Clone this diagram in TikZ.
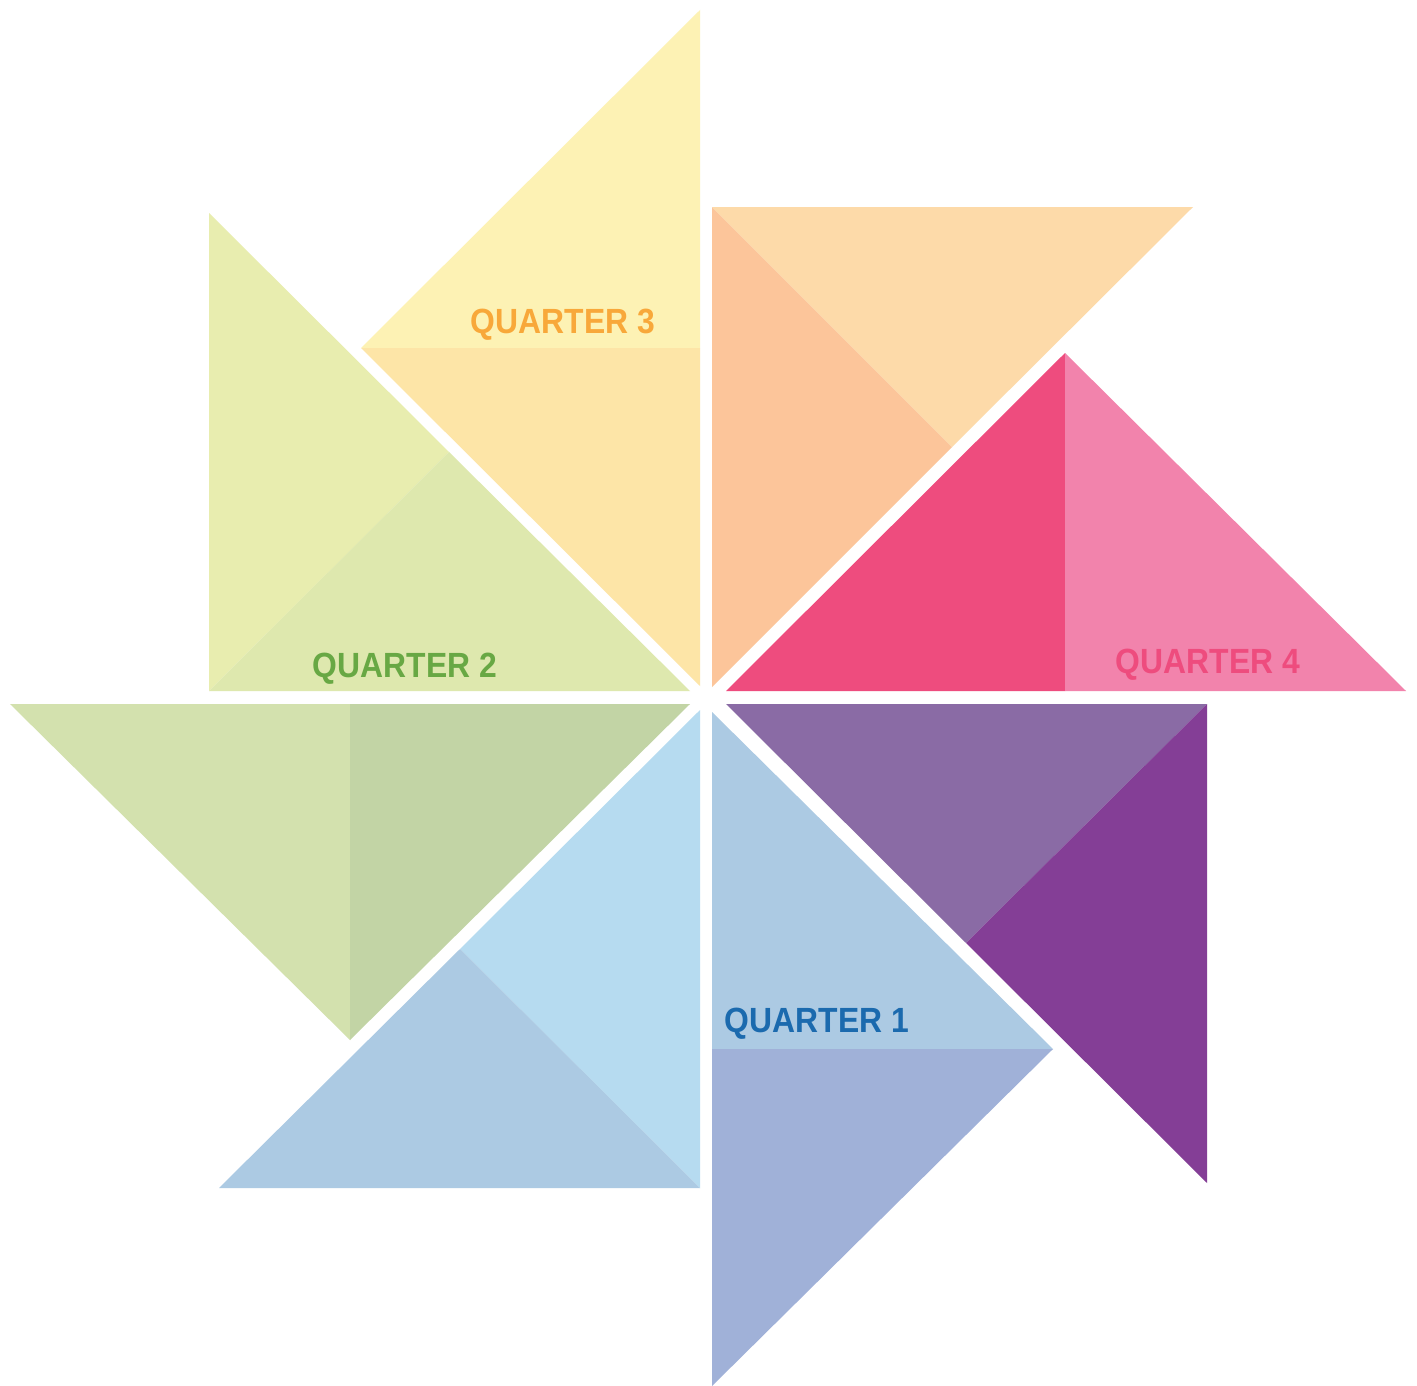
\documentclass[tikz,border=0pt]{standalone}
\usepackage{fontspec}
\setmainfont{Liberation Sans}
\definecolor{cYa}{HTML}{FDF2B4}
\definecolor{cYb}{HTML}{FDE5A7}
\definecolor{cOa}{HTML}{FCC59A}
\definecolor{cOb}{HTML}{FDDAA9}
\definecolor{cPa}{HTML}{EE4C7E}
\definecolor{cPb}{HTML}{F283AC}
\definecolor{cVa}{HTML}{8A6BA5}
\definecolor{cVb}{HTML}{843E96}
\definecolor{cBa}{HTML}{ACCAE3}
\definecolor{cBb}{HTML}{A0B1D8}
\definecolor{cBc}{HTML}{B6DBF0}
\definecolor{cGa}{HTML}{D3E1AE}
\definecolor{cGb}{HTML}{C2D4A5}
\definecolor{cGc}{HTML}{E8EDAF}
\definecolor{cGd}{HTML}{DEE8AE}
\definecolor{tQa}{HTML}{1B6AAE}
\definecolor{tQb}{HTML}{68A844}
\definecolor{tQc}{HTML}{F8A83A}
\definecolor{tQd}{HTML}{EE4C7E}
\tikzset{qlabel/.style={font=\fontsize{35}{35}\selectfont\bfseries, inner sep=0pt, anchor=base, xscale=0.91}}
\begin{document}
\begin{tikzpicture}[x=1pt,y=-1pt]
\useasboundingbox (0,0) rectangle (1417,1386);
\fill[white] (0,0) rectangle (1417,1386);
% top (yellow)
\fill[cYa] (700,10) -- (700,348) -- (361,348) -- cycle;
\fill[cYb] (361,348) -- (700,348) -- (700,686) -- cycle;
% top right (orange)
\fill[cOa] (712,207) -- (952,447) -- (712,687) -- cycle;
\fill[cOb] (712,207) -- (1193,207) -- (952,447) -- cycle;
% right (pink)
\fill[cPa] (726,691) -- (1065,353) -- (1065,691) -- cycle;
\fill[cPb] (1065,353) -- (1406,691) -- (1065,691) -- cycle;
% bottom right (purple)
\fill[cVa] (726,704) -- (1207,704) -- (966,943) -- cycle;
\fill[cVb] (1207,704) -- (1207,1183) -- (966,943) -- cycle;
% bottom (blue)
\fill[cBa] (712,712) -- (1053,1049) -- (712,1049) -- cycle;
\fill[cBb] (712,1049) -- (1053,1049) -- (712,1386) -- cycle;
% bottom left (light blue)
\fill[cBc] (700,710) -- (700,1188) -- (460,949) -- cycle;
\fill[cBa] (219,1188) -- (700,1188) -- (460,949) -- cycle;
% left (green)
\fill[cGa] (10,704) -- (350,704) -- (350,1040) -- cycle;
\fill[cGb] (350,704) -- (690,704) -- (350,1040) -- cycle;
% upper left (lime)
\fill[cGc] (209,213) -- (449,452) -- (209,691) -- cycle;
\fill[cGd] (209,691) -- (449,452) -- (690,691) -- cycle;
% labels
\node[qlabel, text=tQc] (q3) at (563,333) {QUARTER 3};
\node[qlabel, text=tQb] (q2) at (405,677) {QUARTER 2};
\node[qlabel, text=tQd] (q4) at (1208,673) {QUARTER 4};
\node[qlabel, text=tQa] (q1) at (817,1032) {QUARTER 1};
\end{tikzpicture}
\end{document}
